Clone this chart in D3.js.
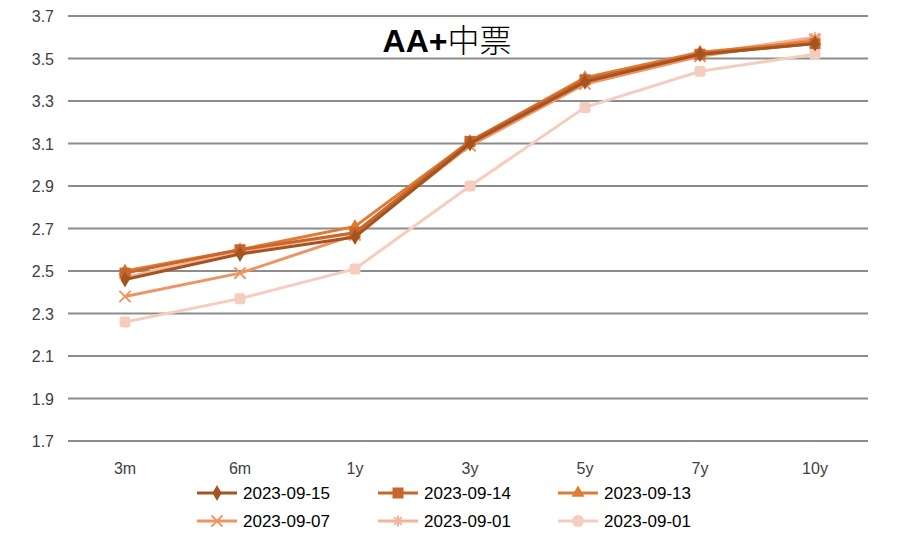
<!DOCTYPE html>
<html>
<head>
<meta charset="utf-8">
<script src="https://cdn.jsdelivr.net/npm/d3@7"></script>
<style>
  body { margin: 0; background: #fff; }
  svg { display: block; font-family: "Liberation Sans", Arial, sans-serif; }
</style>
</head>
<body>
<svg id="chart" width="899" height="552"></svg>
<script>
// tenors on the x axis
let tenors = ['3m', '6m', '1y', '3y', '5y', '7y', '10y']
let yTicks = [1.7, 1.9, 2.1, 2.3, 2.5, 2.7, 2.9, 3.1, 3.3, 3.5, 3.7]

// one array per curve date
let d0915 = [2.46, 2.58, 2.66, 3.10, 3.39, 3.52, 3.57]
let d0914 = [2.49, 2.60, 2.68, 3.11, 3.40, 3.52, 3.57]
let d0913 = [2.50, 2.60, 2.71, 3.11, 3.41, 3.53, 3.58]
let d0907 = [2.38, 2.49, 2.67, 3.09, 3.38, 3.51, 3.59]
let d0901a = [2.47, 2.59, 2.68, 3.10, 3.39, 3.52, 3.60]
let d0901b = [2.26, 2.37, 2.51, 2.90, 3.27, 3.44, 3.52]

let seriesNames = ['2023-09-15', '2023-09-14', '2023-09-13', '2023-09-07', '2023-09-01', '2023-09-01']
let seriesValues = [d0915, d0914, d0913, d0907, d0901a, d0901b]

let colors = ['#A5541F', '#C8662B', '#E07A35', '#EE9464', '#F3B49B', '#F5CDBF']
let shapes = ['diamond', 'square', 'triangle', 'cross', 'star', 'circle']

let svg = d3.select('#chart')

let x = d3.scalePoint().domain(tenors).range([125, 815])
let y = d3.scaleLinear().domain([1.7, 3.7]).range([441, 16])

// gridlines
svg.append('g')
   .selectAll('line')
   .data(yTicks)
   .enter()
   .append('line')
   .attr('x1', 68)
   .attr('x2', 868)
   .attr('y1', (d) => y(d))
   .attr('y2', (d) => y(d))
   .attr('stroke', '#8c8c8c')
   .attr('stroke-width', 2)

// y labels
svg.append('g')
   .selectAll('text')
   .data(yTicks)
   .enter()
   .append('text')
   .attr('x', 54)
   .attr('y', (d) => y(d) + 6)
   .attr('text-anchor', 'end')
   .attr('font-size', 16)
   .attr('fill', '#404040')
   .text((d) => d.toFixed(1))

// x labels
svg.append('g')
   .selectAll('text')
   .data(tenors)
   .enter()
   .append('text')
   .attr('x', (d) => x(d))
   .attr('y', 474)
   .attr('text-anchor', 'middle')
   .attr('font-size', 16)
   .attr('fill', '#404040')
   .text((d) => d)

// title
let title = svg.append('text')
   .attr('x', 447)
   .attr('y', 52)
   .attr('text-anchor', 'middle')
   .attr('font-size', 32)
   .attr('fill', '#000')
title.append('tspan')
   .attr('font-family', '"Liberation Sans", Arial, sans-serif')
   .attr('font-weight', 'bold')
   .text('AA+')
title.append('tspan')
   .attr('font-family', '"Noto Sans CJK SC", sans-serif')
   .attr('font-weight', 300)
   .text('中票')

// draws a marker of the given kind centred at 0,0
let drawMarker = (g, shape, color, size) => {
    if (shape == 'diamond') {
        g.append('path').attr('d', d3.symbol(d3.symbolDiamond, size * size * 0.6)()).attr('fill', color)
    } else if (shape == 'square') {
        g.append('rect').attr('x', -size / 2).attr('y', -size / 2)
         .attr('width', size).attr('height', size).attr('fill', color)
    } else if (shape == 'triangle') {
        g.append('path').attr('d', d3.symbol(d3.symbolTriangle, size * size * 0.6)()).attr('fill', color)
    } else if (shape == 'cross') {
        g.append('path').attr('d', d3.symbol(d3.symbolX, size * size * 0.7)())
         .attr('fill', 'none').attr('stroke', color).attr('stroke-width', 2)
    } else if (shape == 'star') {
        let r = size / 2
        g.append('path')
         .attr('d', `M${-r},0L${r},0M0,${-r}L0,${r}M${-r * 0.7},${-r * 0.7}L${r * 0.7},${r * 0.7}M${-r * 0.7},${r * 0.7}L${r * 0.7},${-r * 0.7}`)
         .attr('stroke', color).attr('stroke-width', 2)
    } else {
        g.append('rect').attr('x', -size / 2).attr('y', -size / 2)
         .attr('width', size).attr('height', size).attr('rx', 3).attr('fill', color)
    }
}

let line = d3.line()
   .x((d, i) => x(tenors[i]))
   .y((d) => y(d))

// draw from the palest so darker curves sit on top
let order = [5, 4, 3, 2, 1, 0]
order.forEach((s) => {
    let g = svg.append('g')
    g.append('path')
     .datum(seriesValues[s])
     .attr('d', line)
     .attr('fill', 'none')
     .attr('stroke', colors[s])
     .attr('stroke-width', 3)
    seriesValues[s].forEach((v, i) => {
        let m = g.append('g').attr('transform', 'translate(' + x(tenors[i]) + ',' + y(v) + ')')
        drawMarker(m, shapes[s], colors[s], 11)
    })
})

// legend
let legendCols = [197, 378, 558]
let legendRows = [493, 521]
seriesNames.forEach((name, i) => {
    let lx = legendCols[i % 3]
    let ly = legendRows[Math.floor(i / 3)]
    let g = svg.append('g').attr('transform', 'translate(' + lx + ',' + ly + ')')
    g.append('line').attr('x1', 0).attr('x2', 40).attr('y1', 0).attr('y2', 0)
     .attr('stroke', colors[i]).attr('stroke-width', 3)
    let m = g.append('g').attr('transform', 'translate(20,0)')
    if (shapes[i] == 'circle') {
        m.append('circle').attr('r', 6).attr('fill', colors[i])
    } else {
        drawMarker(m, shapes[i], colors[i], 11)
    }
    g.append('text')
     .attr('x', 46)
     .attr('y', 6)
     .attr('font-size', 17)
     .attr('fill', '#000')
     .text(name)
})
</script>
</body>
</html>
